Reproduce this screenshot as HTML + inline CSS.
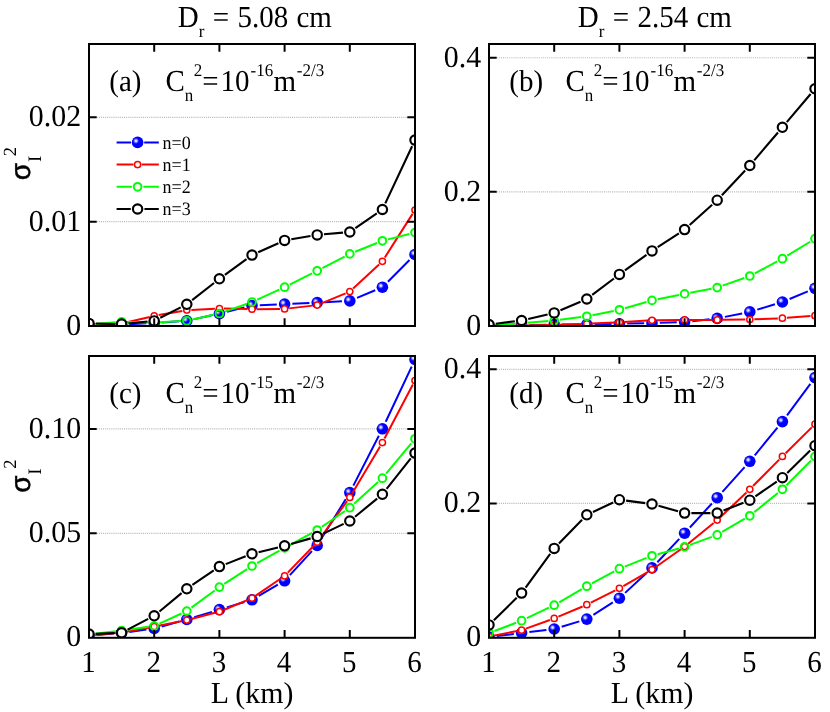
<!DOCTYPE html><html><head><meta charset="utf-8"><style>html,body{margin:0;padding:0;background:#fff}svg{display:block;will-change:transform}text{text-rendering:geometricPrecision}</style></head><body><svg width="830" height="712" viewBox="0 0 830 712">
<defs>
<radialGradient id="bg" cx="0.36" cy="0.37" r="0.28"><stop offset="0" stop-color="#fbfbff"/><stop offset="0.28" stop-color="#ccccff"/><stop offset="0.58" stop-color="#6060ff"/><stop offset="0.84" stop-color="#1616ff"/><stop offset="1" stop-color="#0000ff"/></radialGradient>
<clipPath id="cpa"><rect x="89.0" y="44.0" width="326.00" height="282.00"/></clipPath>
<clipPath id="cpb"><rect x="489.0" y="44.0" width="326.00" height="282.00"/></clipPath>
<clipPath id="cpc"><rect x="89.0" y="356.0" width="326.00" height="281.80"/></clipPath>
<clipPath id="cpd"><rect x="489.0" y="356.0" width="326.00" height="281.80"/></clipPath>
</defs>
<rect width="830" height="712" fill="#fff"/>
<line x1="96.7" y1="221.65" x2="407.3" y2="221.65" stroke="#b8b8b8" stroke-width="1.15" stroke-dasharray="1.05 1.05"/>
<line x1="96.7" y1="117.3" x2="407.3" y2="117.3" stroke="#b8b8b8" stroke-width="1.15" stroke-dasharray="1.05 1.05"/>
<g clip-path="url(#cpa)">
<path d="M96.80 324.88L113.80 324.62M129.39 324.14L146.41 323.36M161.98 322.47L179.02 321.33M194.42 319.12L211.78 315.28M226.97 311.72L244.43 307.38M259.79 305.17L276.81 304.43M292.39 303.74L309.41 302.96M324.99 302.19L342.01 301.31M356.99 297.88L375.21 290.22M387.91 281.68L409.49 260.02" stroke="#0000ff" stroke-width="2.0" fill="none"/><circle cx="89.00" cy="325.00" r="5.8" fill="url(#bg)"/><circle cx="121.60" cy="324.50" r="5.8" fill="url(#bg)"/><circle cx="154.20" cy="323.00" r="5.8" fill="url(#bg)"/><circle cx="186.80" cy="320.80" r="5.8" fill="url(#bg)"/><circle cx="219.40" cy="313.60" r="5.8" fill="url(#bg)"/><circle cx="252.00" cy="305.50" r="5.8" fill="url(#bg)"/><circle cx="284.60" cy="304.10" r="5.8" fill="url(#bg)"/><circle cx="317.20" cy="302.60" r="5.8" fill="url(#bg)"/><circle cx="349.80" cy="300.90" r="5.8" fill="url(#bg)"/><circle cx="382.40" cy="287.20" r="5.8" fill="url(#bg)"/><circle cx="415.00" cy="254.50" r="5.8" fill="url(#bg)"/>
<path d="M93.55 324.36L117.05 323.64M126.03 322.47L149.77 316.93M158.68 315.10L182.32 310.90M191.34 309.88L214.86 308.72M223.95 308.60L247.45 309.10M256.55 309.16L280.05 308.94M289.12 308.37L312.68 305.63M321.40 303.36L345.60 293.34M353.13 288.50L379.07 264.40M384.84 257.46L412.56 213.84" stroke="#ff0000" stroke-width="2.0" fill="none"/><circle cx="89.00" cy="324.50" r="3.10" fill="#fff" stroke="#ff0000" stroke-width="1.5"/><circle cx="121.60" cy="323.50" r="3.10" fill="#fff" stroke="#ff0000" stroke-width="1.5"/><circle cx="154.20" cy="315.90" r="3.10" fill="#fff" stroke="#ff0000" stroke-width="1.5"/><circle cx="186.80" cy="310.10" r="3.10" fill="#fff" stroke="#ff0000" stroke-width="1.5"/><circle cx="219.40" cy="308.50" r="3.10" fill="#fff" stroke="#ff0000" stroke-width="1.5"/><circle cx="252.00" cy="309.20" r="3.10" fill="#fff" stroke="#ff0000" stroke-width="1.5"/><circle cx="284.60" cy="308.90" r="3.10" fill="#fff" stroke="#ff0000" stroke-width="1.5"/><circle cx="317.20" cy="305.10" r="3.10" fill="#fff" stroke="#ff0000" stroke-width="1.5"/><circle cx="349.80" cy="291.60" r="3.10" fill="#fff" stroke="#ff0000" stroke-width="1.5"/><circle cx="382.40" cy="261.30" r="3.10" fill="#fff" stroke="#ff0000" stroke-width="1.5"/><circle cx="415.00" cy="210.00" r="3.10" fill="#fff" stroke="#ff0000" stroke-width="1.5"/>
<path d="M94.78 324.04L115.82 322.36M127.40 322.01L148.40 322.39M159.99 322.20L181.01 321.10M192.46 319.55L213.74 314.85M224.86 311.66L246.54 303.94M257.28 299.60L279.32 289.60M289.78 284.59L312.02 273.41M322.35 268.13L344.65 256.57M355.18 251.74L377.02 242.96M388.02 239.37L409.38 233.93" stroke="#00ff00" stroke-width="2.0" fill="none"/><circle cx="89.00" cy="324.50" r="3.85" fill="none" stroke="#00ff00" stroke-width="2.0"/><circle cx="121.60" cy="321.90" r="3.85" fill="none" stroke="#00ff00" stroke-width="2.0"/><circle cx="154.20" cy="322.50" r="3.85" fill="none" stroke="#00ff00" stroke-width="2.0"/><circle cx="186.80" cy="320.80" r="3.85" fill="none" stroke="#00ff00" stroke-width="2.0"/><circle cx="219.40" cy="313.60" r="3.85" fill="none" stroke="#00ff00" stroke-width="2.0"/><circle cx="252.00" cy="302.00" r="3.85" fill="none" stroke="#00ff00" stroke-width="2.0"/><circle cx="284.60" cy="287.20" r="3.85" fill="none" stroke="#00ff00" stroke-width="2.0"/><circle cx="317.20" cy="270.80" r="3.85" fill="none" stroke="#00ff00" stroke-width="2.0"/><circle cx="349.80" cy="253.90" r="3.85" fill="none" stroke="#00ff00" stroke-width="2.0"/><circle cx="382.40" cy="240.80" r="3.85" fill="none" stroke="#00ff00" stroke-width="2.0"/><circle cx="415.00" cy="232.50" r="3.85" fill="none" stroke="#00ff00" stroke-width="2.0"/>
<path d="M95.80 323.55L114.80 323.95M128.37 323.44L147.43 321.56M160.26 317.81L180.74 307.39M192.16 300.11L214.04 282.99M224.90 274.80L246.50 259.10M258.20 252.30L278.40 243.20M291.31 239.27L310.49 236.03M323.97 234.30L343.03 232.60M355.40 228.14L376.80 213.36M385.29 203.35L412.11 146.25" stroke="#000000" stroke-width="2.1" fill="none"/><circle cx="89.00" cy="323.40" r="4.67" fill="#fff" stroke="#000000" stroke-width="2.15"/><circle cx="121.60" cy="324.10" r="4.67" fill="#fff" stroke="#000000" stroke-width="2.15"/><circle cx="154.20" cy="320.90" r="4.67" fill="#fff" stroke="#000000" stroke-width="2.15"/><circle cx="186.80" cy="304.30" r="4.67" fill="#fff" stroke="#000000" stroke-width="2.15"/><circle cx="219.40" cy="278.80" r="4.67" fill="#fff" stroke="#000000" stroke-width="2.15"/><circle cx="252.00" cy="255.10" r="4.67" fill="#fff" stroke="#000000" stroke-width="2.15"/><circle cx="284.60" cy="240.40" r="4.67" fill="#fff" stroke="#000000" stroke-width="2.15"/><circle cx="317.20" cy="234.90" r="4.67" fill="#fff" stroke="#000000" stroke-width="2.15"/><circle cx="349.80" cy="232.00" r="4.67" fill="#fff" stroke="#000000" stroke-width="2.15"/><circle cx="382.40" cy="209.50" r="4.67" fill="#fff" stroke="#000000" stroke-width="2.15"/><circle cx="415.00" cy="140.10" r="4.67" fill="#fff" stroke="#000000" stroke-width="2.15"/>
</g>
<rect x="89.0" y="44.0" width="326.00" height="282.00" fill="none" stroke="#000" stroke-width="2"/>
<path d="M154.20 326.0v-7.7M154.20 44.0v7.7M219.40 326.0v-7.7M219.40 44.0v7.7M284.60 326.0v-7.7M284.60 44.0v7.7M349.80 326.0v-7.7M349.80 44.0v7.7M89.0 221.65h7.7M415.0 221.65h-7.7M89.0 117.3h7.7M415.0 117.3h-7.7" stroke="#000" stroke-width="2" fill="none"/>
<line x1="496.7" y1="191.85" x2="807.3" y2="191.85" stroke="#b8b8b8" stroke-width="1.15" stroke-dasharray="1.05 1.05"/>
<line x1="496.7" y1="57.7" x2="807.3" y2="57.7" stroke="#b8b8b8" stroke-width="1.15" stroke-dasharray="1.05 1.05"/>
<g clip-path="url(#cpb)">
<path d="M496.80 325.88L513.80 325.62M529.40 325.26L546.40 324.74M562.00 324.50L579.00 324.50M594.60 324.33L611.60 323.97M627.20 323.61L644.20 323.19M659.80 322.76L676.80 322.24M692.35 321.14L709.45 319.26M724.85 316.87L742.15 313.43M757.26 309.63L774.94 304.27M789.59 298.98L807.81 291.32" stroke="#0000ff" stroke-width="2.0" fill="none"/><circle cx="489.00" cy="326.00" r="5.8" fill="url(#bg)"/><circle cx="521.60" cy="325.50" r="5.8" fill="url(#bg)"/><circle cx="554.20" cy="324.50" r="5.8" fill="url(#bg)"/><circle cx="586.80" cy="324.50" r="5.8" fill="url(#bg)"/><circle cx="619.40" cy="323.80" r="5.8" fill="url(#bg)"/><circle cx="652.00" cy="323.00" r="5.8" fill="url(#bg)"/><circle cx="684.60" cy="322.00" r="5.8" fill="url(#bg)"/><circle cx="717.20" cy="318.40" r="5.8" fill="url(#bg)"/><circle cx="749.80" cy="311.90" r="5.8" fill="url(#bg)"/><circle cx="782.40" cy="302.00" r="5.8" fill="url(#bg)"/><circle cx="815.00" cy="288.30" r="5.8" fill="url(#bg)"/>
<path d="M493.55 325.76L517.05 325.54M526.15 325.43L549.65 325.07M558.75 324.83L582.25 323.97M591.35 323.59L614.85 322.51M623.94 322.02L647.46 320.58M656.55 320.24L680.05 319.96M689.15 319.90L712.65 319.90M721.75 319.84L745.25 319.56M754.35 319.32L777.85 318.38M786.94 317.85L810.46 316.05" stroke="#ff0000" stroke-width="2.0" fill="none"/><circle cx="489.00" cy="325.80" r="3.10" fill="#fff" stroke="#ff0000" stroke-width="1.5"/><circle cx="521.60" cy="325.50" r="3.10" fill="#fff" stroke="#ff0000" stroke-width="1.5"/><circle cx="554.20" cy="325.00" r="3.10" fill="#fff" stroke="#ff0000" stroke-width="1.5"/><circle cx="586.80" cy="323.80" r="3.10" fill="#fff" stroke="#ff0000" stroke-width="1.5"/><circle cx="619.40" cy="322.30" r="3.10" fill="#fff" stroke="#ff0000" stroke-width="1.5"/><circle cx="652.00" cy="320.30" r="3.10" fill="#fff" stroke="#ff0000" stroke-width="1.5"/><circle cx="684.60" cy="319.90" r="3.10" fill="#fff" stroke="#ff0000" stroke-width="1.5"/><circle cx="717.20" cy="319.90" r="3.10" fill="#fff" stroke="#ff0000" stroke-width="1.5"/><circle cx="749.80" cy="319.50" r="3.10" fill="#fff" stroke="#ff0000" stroke-width="1.5"/><circle cx="782.40" cy="318.20" r="3.10" fill="#fff" stroke="#ff0000" stroke-width="1.5"/><circle cx="815.00" cy="315.70" r="3.10" fill="#fff" stroke="#ff0000" stroke-width="1.5"/>
<path d="M494.79 325.09L515.81 323.61M527.38 322.74L548.42 321.06M559.95 319.84L581.05 317.06M592.49 315.17L613.71 310.93M624.97 308.19L646.43 302.01M657.69 299.27L678.91 295.03M690.29 292.80L711.51 288.70M722.66 285.66L744.34 277.94M754.92 273.28L777.28 261.42M787.34 255.67L810.06 241.73" stroke="#00ff00" stroke-width="2.0" fill="none"/><circle cx="489.00" cy="325.50" r="3.85" fill="none" stroke="#00ff00" stroke-width="2.0"/><circle cx="521.60" cy="323.20" r="3.85" fill="none" stroke="#00ff00" stroke-width="2.0"/><circle cx="554.20" cy="320.60" r="3.85" fill="none" stroke="#00ff00" stroke-width="2.0"/><circle cx="586.80" cy="316.30" r="3.85" fill="none" stroke="#00ff00" stroke-width="2.0"/><circle cx="619.40" cy="309.80" r="3.85" fill="none" stroke="#00ff00" stroke-width="2.0"/><circle cx="652.00" cy="300.40" r="3.85" fill="none" stroke="#00ff00" stroke-width="2.0"/><circle cx="684.60" cy="293.90" r="3.85" fill="none" stroke="#00ff00" stroke-width="2.0"/><circle cx="717.20" cy="287.60" r="3.85" fill="none" stroke="#00ff00" stroke-width="2.0"/><circle cx="749.80" cy="276.00" r="3.85" fill="none" stroke="#00ff00" stroke-width="2.0"/><circle cx="782.40" cy="258.70" r="3.85" fill="none" stroke="#00ff00" stroke-width="2.0"/><circle cx="815.00" cy="238.70" r="3.85" fill="none" stroke="#00ff00" stroke-width="2.0"/>
<path d="M495.75 323.67L514.85 321.33M528.22 318.96L547.58 314.44M560.46 310.23L580.54 301.67M592.23 294.90L613.97 278.50M624.92 270.42L646.48 254.88M657.69 247.18L678.91 233.32M689.65 225.05L712.15 204.75M721.86 195.24L745.14 170.46M754.21 160.33L777.99 132.47M786.79 122.11L810.61 93.99" stroke="#000000" stroke-width="2.1" fill="none"/><circle cx="489.00" cy="324.50" r="4.67" fill="#fff" stroke="#000000" stroke-width="2.15"/><circle cx="521.60" cy="320.50" r="4.67" fill="#fff" stroke="#000000" stroke-width="2.15"/><circle cx="554.20" cy="312.90" r="4.67" fill="#fff" stroke="#000000" stroke-width="2.15"/><circle cx="586.80" cy="299.00" r="4.67" fill="#fff" stroke="#000000" stroke-width="2.15"/><circle cx="619.40" cy="274.40" r="4.67" fill="#fff" stroke="#000000" stroke-width="2.15"/><circle cx="652.00" cy="250.90" r="4.67" fill="#fff" stroke="#000000" stroke-width="2.15"/><circle cx="684.60" cy="229.60" r="4.67" fill="#fff" stroke="#000000" stroke-width="2.15"/><circle cx="717.20" cy="200.20" r="4.67" fill="#fff" stroke="#000000" stroke-width="2.15"/><circle cx="749.80" cy="165.50" r="4.67" fill="#fff" stroke="#000000" stroke-width="2.15"/><circle cx="782.40" cy="127.30" r="4.67" fill="#fff" stroke="#000000" stroke-width="2.15"/><circle cx="815.00" cy="88.80" r="4.67" fill="#fff" stroke="#000000" stroke-width="2.15"/>
</g>
<rect x="489.0" y="44.0" width="326.00" height="282.00" fill="none" stroke="#000" stroke-width="2"/>
<path d="M554.20 326.0v-7.7M554.20 44.0v7.7M619.40 326.0v-7.7M619.40 44.0v7.7M684.60 326.0v-7.7M684.60 44.0v7.7M749.80 326.0v-7.7M749.80 44.0v7.7M489.0 191.85h7.7M815.0 191.85h-7.7M489.0 57.7h7.7M815.0 57.7h-7.7" stroke="#000" stroke-width="2" fill="none"/>
<line x1="96.7" y1="533.35" x2="407.3" y2="533.35" stroke="#b8b8b8" stroke-width="1.15" stroke-dasharray="1.05 1.05"/>
<line x1="96.7" y1="428.9" x2="407.3" y2="428.9" stroke="#b8b8b8" stroke-width="1.15" stroke-dasharray="1.05 1.05"/>
<g clip-path="url(#cpc)">
<path d="M96.78 634.90L113.82 633.60M129.33 631.93L146.47 629.57M161.72 626.42L179.28 621.58M194.26 617.23L211.94 611.87M226.87 607.35L244.53 602.05M258.74 595.87L277.86 584.73M289.88 575.06L311.92 551.14M321.30 538.76L345.70 499.24M353.35 485.65L378.85 435.75M385.72 421.74L411.68 366.56" stroke="#0000ff" stroke-width="2.0" fill="none"/><circle cx="89.00" cy="635.50" r="5.8" fill="url(#bg)"/><circle cx="121.60" cy="633.00" r="5.8" fill="url(#bg)"/><circle cx="154.20" cy="628.50" r="5.8" fill="url(#bg)"/><circle cx="186.80" cy="619.50" r="5.8" fill="url(#bg)"/><circle cx="219.40" cy="609.60" r="5.8" fill="url(#bg)"/><circle cx="252.00" cy="599.80" r="5.8" fill="url(#bg)"/><circle cx="284.60" cy="580.80" r="5.8" fill="url(#bg)"/><circle cx="317.20" cy="545.40" r="5.8" fill="url(#bg)"/><circle cx="349.80" cy="492.60" r="5.8" fill="url(#bg)"/><circle cx="382.40" cy="428.80" r="5.8" fill="url(#bg)"/><circle cx="415.00" cy="359.50" r="5.8" fill="url(#bg)"/>
<path d="M93.53 635.08L117.07 632.92M126.08 631.70L149.72 627.50M158.66 625.80L182.34 621.00M191.21 618.96L214.99 612.84M223.60 609.96L247.80 599.94M255.76 595.63L280.84 578.47M287.76 572.63L314.04 545.47M319.88 538.52L347.12 501.08M352.13 493.49L380.07 446.51M384.51 438.57L412.89 384.53" stroke="#ff0000" stroke-width="2.0" fill="none"/><circle cx="89.00" cy="635.50" r="3.10" fill="#fff" stroke="#ff0000" stroke-width="1.5"/><circle cx="121.60" cy="632.50" r="3.10" fill="#fff" stroke="#ff0000" stroke-width="1.5"/><circle cx="154.20" cy="626.70" r="3.10" fill="#fff" stroke="#ff0000" stroke-width="1.5"/><circle cx="186.80" cy="620.10" r="3.10" fill="#fff" stroke="#ff0000" stroke-width="1.5"/><circle cx="219.40" cy="611.70" r="3.10" fill="#fff" stroke="#ff0000" stroke-width="1.5"/><circle cx="252.00" cy="598.20" r="3.10" fill="#fff" stroke="#ff0000" stroke-width="1.5"/><circle cx="284.60" cy="575.90" r="3.10" fill="#fff" stroke="#ff0000" stroke-width="1.5"/><circle cx="317.20" cy="542.20" r="3.10" fill="#fff" stroke="#ff0000" stroke-width="1.5"/><circle cx="349.80" cy="497.40" r="3.10" fill="#fff" stroke="#ff0000" stroke-width="1.5"/><circle cx="382.40" cy="442.60" r="3.10" fill="#fff" stroke="#ff0000" stroke-width="1.5"/><circle cx="415.00" cy="380.50" r="3.10" fill="#fff" stroke="#ff0000" stroke-width="1.5"/>
<path d="M94.76 633.79L115.84 631.21M127.35 629.71L148.45 626.79M159.48 623.59L181.52 613.51M191.47 607.66L214.73 590.54M224.27 583.95L247.13 569.15M257.07 563.18L279.53 550.72M289.68 545.11L312.12 532.79M321.99 526.73L345.01 510.97M354.10 503.81L378.10 482.09M386.10 473.73L411.30 443.27" stroke="#00ff00" stroke-width="2.0" fill="none"/><circle cx="89.00" cy="634.50" r="3.85" fill="none" stroke="#00ff00" stroke-width="2.0"/><circle cx="121.60" cy="630.50" r="3.85" fill="none" stroke="#00ff00" stroke-width="2.0"/><circle cx="154.20" cy="626.00" r="3.85" fill="none" stroke="#00ff00" stroke-width="2.0"/><circle cx="186.80" cy="611.10" r="3.85" fill="none" stroke="#00ff00" stroke-width="2.0"/><circle cx="219.40" cy="587.10" r="3.85" fill="none" stroke="#00ff00" stroke-width="2.0"/><circle cx="252.00" cy="566.00" r="3.85" fill="none" stroke="#00ff00" stroke-width="2.0"/><circle cx="284.60" cy="547.90" r="3.85" fill="none" stroke="#00ff00" stroke-width="2.0"/><circle cx="317.20" cy="530.00" r="3.85" fill="none" stroke="#00ff00" stroke-width="2.0"/><circle cx="349.80" cy="507.70" r="3.85" fill="none" stroke="#00ff00" stroke-width="2.0"/><circle cx="382.40" cy="478.20" r="3.85" fill="none" stroke="#00ff00" stroke-width="2.0"/><circle cx="415.00" cy="438.80" r="3.85" fill="none" stroke="#00ff00" stroke-width="2.0"/>
<path d="M95.79 633.83L114.81 633.07M127.63 629.66L148.17 618.94M159.44 611.46L181.56 593.14M192.42 584.97L213.78 570.43M225.73 564.11L245.67 556.29M258.60 552.18L278.00 547.42M291.14 543.93L310.66 538.37M323.34 533.58L343.66 523.92M355.06 516.69L377.14 498.61M386.62 488.97L410.78 458.43" stroke="#000000" stroke-width="2.1" fill="none"/><circle cx="89.00" cy="634.10" r="4.67" fill="#fff" stroke="#000000" stroke-width="2.15"/><circle cx="121.60" cy="632.80" r="4.67" fill="#fff" stroke="#000000" stroke-width="2.15"/><circle cx="154.20" cy="615.80" r="4.67" fill="#fff" stroke="#000000" stroke-width="2.15"/><circle cx="186.80" cy="588.80" r="4.67" fill="#fff" stroke="#000000" stroke-width="2.15"/><circle cx="219.40" cy="566.60" r="4.67" fill="#fff" stroke="#000000" stroke-width="2.15"/><circle cx="252.00" cy="553.80" r="4.67" fill="#fff" stroke="#000000" stroke-width="2.15"/><circle cx="284.60" cy="545.80" r="4.67" fill="#fff" stroke="#000000" stroke-width="2.15"/><circle cx="317.20" cy="536.50" r="4.67" fill="#fff" stroke="#000000" stroke-width="2.15"/><circle cx="349.80" cy="521.00" r="4.67" fill="#fff" stroke="#000000" stroke-width="2.15"/><circle cx="382.40" cy="494.30" r="4.67" fill="#fff" stroke="#000000" stroke-width="2.15"/><circle cx="415.00" cy="453.10" r="4.67" fill="#fff" stroke="#000000" stroke-width="2.15"/>
</g>
<rect x="89.0" y="356.0" width="326.00" height="281.80" fill="none" stroke="#000" stroke-width="2"/>
<path d="M154.20 637.8v-7.7M154.20 356.0v7.7M219.40 637.8v-7.7M219.40 356.0v7.7M284.60 637.8v-7.7M284.60 356.0v7.7M349.80 637.8v-7.7M349.80 356.0v7.7M89.0 533.35h7.7M415.0 533.35h-7.7M89.0 428.9h7.7M415.0 428.9h-7.7" stroke="#000" stroke-width="2" fill="none"/>
<line x1="496.7" y1="503.4" x2="807.3" y2="503.4" stroke="#b8b8b8" stroke-width="1.15" stroke-dasharray="1.05 1.05"/>
<line x1="496.7" y1="369.3" x2="807.3" y2="369.3" stroke="#b8b8b8" stroke-width="1.15" stroke-dasharray="1.05 1.05"/>
<g clip-path="url(#cpd)">
<path d="M496.74 636.05L513.86 633.95M529.34 632.05L546.46 629.95M561.66 626.73L579.34 621.37M593.37 614.89L612.83 602.41M625.11 592.89L646.29 573.21M657.34 562.22L679.26 538.88M689.88 527.45L711.92 503.45M722.40 491.89L744.60 467.11M754.75 455.27L777.45 427.63M787.04 415.33L810.36 383.87" stroke="#0000ff" stroke-width="2.0" fill="none"/><circle cx="489.00" cy="637.00" r="5.8" fill="url(#bg)"/><circle cx="521.60" cy="633.00" r="5.8" fill="url(#bg)"/><circle cx="554.20" cy="629.00" r="5.8" fill="url(#bg)"/><circle cx="586.80" cy="619.10" r="5.8" fill="url(#bg)"/><circle cx="619.40" cy="598.20" r="5.8" fill="url(#bg)"/><circle cx="652.00" cy="567.90" r="5.8" fill="url(#bg)"/><circle cx="684.60" cy="533.20" r="5.8" fill="url(#bg)"/><circle cx="717.20" cy="497.70" r="5.8" fill="url(#bg)"/><circle cx="749.80" cy="461.30" r="5.8" fill="url(#bg)"/><circle cx="782.40" cy="421.60" r="5.8" fill="url(#bg)"/><circle cx="815.00" cy="377.60" r="5.8" fill="url(#bg)"/>
<path d="M493.47 635.64L517.13 631.06M525.88 628.65L549.92 619.95M558.39 616.64L582.61 606.46M590.86 602.66L615.34 590.34M623.35 586.04L648.05 571.86M655.72 566.98L680.88 549.22M688.13 543.73L713.67 522.97M720.51 516.98L746.49 492.42M753.00 486.07L779.20 459.63M785.64 453.20L811.76 427.40" stroke="#ff0000" stroke-width="2.0" fill="none"/><circle cx="489.00" cy="636.50" r="3.10" fill="#fff" stroke="#ff0000" stroke-width="1.5"/><circle cx="521.60" cy="630.20" r="3.10" fill="#fff" stroke="#ff0000" stroke-width="1.5"/><circle cx="554.20" cy="618.40" r="3.10" fill="#fff" stroke="#ff0000" stroke-width="1.5"/><circle cx="586.80" cy="604.70" r="3.10" fill="#fff" stroke="#ff0000" stroke-width="1.5"/><circle cx="619.40" cy="588.30" r="3.10" fill="#fff" stroke="#ff0000" stroke-width="1.5"/><circle cx="652.00" cy="569.60" r="3.10" fill="#fff" stroke="#ff0000" stroke-width="1.5"/><circle cx="684.60" cy="546.60" r="3.10" fill="#fff" stroke="#ff0000" stroke-width="1.5"/><circle cx="717.20" cy="520.10" r="3.10" fill="#fff" stroke="#ff0000" stroke-width="1.5"/><circle cx="749.80" cy="489.30" r="3.10" fill="#fff" stroke="#ff0000" stroke-width="1.5"/><circle cx="782.40" cy="456.40" r="3.10" fill="#fff" stroke="#ff0000" stroke-width="1.5"/><circle cx="815.00" cy="424.20" r="3.10" fill="#fff" stroke="#ff0000" stroke-width="1.5"/>
<path d="M494.43 630.95L516.17 622.75M526.84 618.21L548.96 607.69M559.21 602.28L581.79 589.12M591.91 583.46L614.29 571.44M624.79 566.57L646.61 557.93M657.60 554.27L679.00 548.43M690.04 544.90L711.76 536.90M722.20 531.97L744.80 518.73M754.30 512.14L777.90 492.96M786.49 485.19L810.91 460.71" stroke="#00ff00" stroke-width="2.0" fill="none"/><circle cx="489.00" cy="633.00" r="3.85" fill="none" stroke="#00ff00" stroke-width="2.0"/><circle cx="521.60" cy="620.70" r="3.85" fill="none" stroke="#00ff00" stroke-width="2.0"/><circle cx="554.20" cy="605.20" r="3.85" fill="none" stroke="#00ff00" stroke-width="2.0"/><circle cx="586.80" cy="586.20" r="3.85" fill="none" stroke="#00ff00" stroke-width="2.0"/><circle cx="619.40" cy="568.70" r="3.85" fill="none" stroke="#00ff00" stroke-width="2.0"/><circle cx="652.00" cy="555.80" r="3.85" fill="none" stroke="#00ff00" stroke-width="2.0"/><circle cx="684.60" cy="546.90" r="3.85" fill="none" stroke="#00ff00" stroke-width="2.0"/><circle cx="717.20" cy="534.90" r="3.85" fill="none" stroke="#00ff00" stroke-width="2.0"/><circle cx="749.80" cy="515.80" r="3.85" fill="none" stroke="#00ff00" stroke-width="2.0"/><circle cx="782.40" cy="489.30" r="3.85" fill="none" stroke="#00ff00" stroke-width="2.0"/><circle cx="815.00" cy="456.60" r="3.85" fill="none" stroke="#00ff00" stroke-width="2.0"/>
<path d="M493.87 620.15L516.73 597.85M525.61 587.61L550.19 553.89M558.94 543.52L582.06 519.68M592.97 511.94L613.23 502.56M626.14 500.59L645.26 503.11M658.55 505.83L678.05 511.27M691.40 513.10L710.40 513.10M723.52 510.60L743.48 502.70M755.40 496.34L776.80 481.56M787.25 472.94L810.15 450.46" stroke="#000000" stroke-width="2.1" fill="none"/><circle cx="489.00" cy="624.90" r="4.67" fill="#fff" stroke="#000000" stroke-width="2.15"/><circle cx="521.60" cy="593.10" r="4.67" fill="#fff" stroke="#000000" stroke-width="2.15"/><circle cx="554.20" cy="548.40" r="4.67" fill="#fff" stroke="#000000" stroke-width="2.15"/><circle cx="586.80" cy="514.80" r="4.67" fill="#fff" stroke="#000000" stroke-width="2.15"/><circle cx="619.40" cy="499.70" r="4.67" fill="#fff" stroke="#000000" stroke-width="2.15"/><circle cx="652.00" cy="504.00" r="4.67" fill="#fff" stroke="#000000" stroke-width="2.15"/><circle cx="684.60" cy="513.10" r="4.67" fill="#fff" stroke="#000000" stroke-width="2.15"/><circle cx="717.20" cy="513.10" r="4.67" fill="#fff" stroke="#000000" stroke-width="2.15"/><circle cx="749.80" cy="500.20" r="4.67" fill="#fff" stroke="#000000" stroke-width="2.15"/><circle cx="782.40" cy="477.70" r="4.67" fill="#fff" stroke="#000000" stroke-width="2.15"/><circle cx="815.00" cy="445.70" r="4.67" fill="#fff" stroke="#000000" stroke-width="2.15"/>
</g>
<rect x="489.0" y="356.0" width="326.00" height="281.80" fill="none" stroke="#000" stroke-width="2"/>
<path d="M554.20 637.8v-7.7M554.20 356.0v7.7M619.40 637.8v-7.7M619.40 356.0v7.7M684.60 637.8v-7.7M684.60 356.0v7.7M749.80 637.8v-7.7M749.80 356.0v7.7M489.0 503.4h7.7M815.0 503.4h-7.7M489.0 369.3h7.7M815.0 369.3h-7.7" stroke="#000" stroke-width="2" fill="none"/>
<g font-family="'Liberation Serif', serif" font-size="29px" fill="#000">
<text transform="translate(81.10 335.00) scale(1.03 1.05)" text-anchor="end">0</text>
<text transform="translate(81.10 230.65) scale(1.03 1.05)" text-anchor="end">0.01</text>
<text transform="translate(81.10 126.30) scale(1.03 1.05)" text-anchor="end">0.02</text>
<text transform="translate(481.10 335.00) scale(1.03 1.05)" text-anchor="end">0</text>
<text transform="translate(481.10 200.85) scale(1.03 1.05)" text-anchor="end">0.2</text>
<text transform="translate(481.10 66.70) scale(1.03 1.05)" text-anchor="end">0.4</text>
<text transform="translate(81.10 646.40) scale(1.03 1.05)" text-anchor="end">0</text>
<text transform="translate(81.10 542.35) scale(1.03 1.05)" text-anchor="end">0.05</text>
<text transform="translate(81.10 437.90) scale(1.03 1.05)" text-anchor="end">0.10</text>
<text transform="translate(481.10 646.40) scale(1.03 1.05)" text-anchor="end">0</text>
<text transform="translate(481.10 512.40) scale(1.03 1.05)" text-anchor="end">0.2</text>
<text transform="translate(481.10 378.30) scale(1.03 1.05)" text-anchor="end">0.4</text>
<text transform="translate(88.50 671.6) scale(1 1.05)" text-anchor="middle">1</text>
<text transform="translate(153.70 671.6) scale(1 1.05)" text-anchor="middle">2</text>
<text transform="translate(218.90 671.6) scale(1 1.05)" text-anchor="middle">3</text>
<text transform="translate(284.10 671.6) scale(1 1.05)" text-anchor="middle">4</text>
<text transform="translate(349.30 671.6) scale(1 1.05)" text-anchor="middle">5</text>
<text transform="translate(414.50 671.6) scale(1 1.05)" text-anchor="middle">6</text>
<text transform="translate(252.00 703.1) scale(1.03 1.05)" text-anchor="middle">L (km)</text>
<text transform="translate(488.50 671.6) scale(1 1.05)" text-anchor="middle">1</text>
<text transform="translate(553.70 671.6) scale(1 1.05)" text-anchor="middle">2</text>
<text transform="translate(618.90 671.6) scale(1 1.05)" text-anchor="middle">3</text>
<text transform="translate(684.10 671.6) scale(1 1.05)" text-anchor="middle">4</text>
<text transform="translate(749.30 671.6) scale(1 1.05)" text-anchor="middle">5</text>
<text transform="translate(814.50 671.6) scale(1 1.05)" text-anchor="middle">6</text>
<text transform="translate(652.00 703.1) scale(1.03 1.05)" text-anchor="middle">L (km)</text>
<text transform="translate(177.7 26.6) scale(1 1.05)" word-spacing="1.1">D<tspan font-size="17px" dy="9.6">r</tspan><tspan dy="-9.6"> = 5.08 cm</tspan></text>
<text transform="translate(577.7 26.6) scale(1 1.05)" word-spacing="1.1">D<tspan font-size="17px" dy="9.6">r</tspan><tspan dy="-9.6"> = 2.54 cm</tspan></text>
<text transform="translate(109.3 90.9) scale(1 1.05)">(a)</text>
<text transform="translate(165.4 90.9) scale(1 1.05)">C<tspan font-size="17px" dy="9.6">n</tspan><tspan font-size="17px" dy="-24.1" dx="0.6">2</tspan><tspan dy="14.5">=</tspan><tspan dx="1.9">10</tspan><tspan font-size="17px" dy="-14.5" dx="0.9">-16</tspan><tspan dy="14.5" dx="0.4">m</tspan><tspan font-size="17px" dy="-14.5" dx="0.7">-2/3</tspan></text>
<text transform="translate(509.3 90.9) scale(1 1.05)">(b)</text>
<text transform="translate(565.4 90.9) scale(1 1.05)">C<tspan font-size="17px" dy="9.6">n</tspan><tspan font-size="17px" dy="-24.1" dx="0.6">2</tspan><tspan dy="14.5">=</tspan><tspan dx="1.9">10</tspan><tspan font-size="17px" dy="-14.5" dx="0.9">-16</tspan><tspan dy="14.5" dx="0.4">m</tspan><tspan font-size="17px" dy="-14.5" dx="0.7">-2/3</tspan></text>
<text transform="translate(109.3 402.9) scale(1 1.05)">(c)</text>
<text transform="translate(165.4 402.9) scale(1 1.05)">C<tspan font-size="17px" dy="9.6">n</tspan><tspan font-size="17px" dy="-24.1" dx="0.6">2</tspan><tspan dy="14.5">=</tspan><tspan dx="1.9">10</tspan><tspan font-size="17px" dy="-14.5" dx="0.9">-15</tspan><tspan dy="14.5" dx="0.4">m</tspan><tspan font-size="17px" dy="-14.5" dx="0.7">-2/3</tspan></text>
<text transform="translate(509.3 402.9) scale(1 1.05)">(d)</text>
<text transform="translate(565.4 402.9) scale(1 1.05)">C<tspan font-size="17px" dy="9.6">n</tspan><tspan font-size="17px" dy="-24.1" dx="0.6">2</tspan><tspan dy="14.5">=</tspan><tspan dx="1.9">10</tspan><tspan font-size="17px" dy="-14.5" dx="0.9">-15</tspan><tspan dy="14.5" dx="0.4">m</tspan><tspan font-size="17px" dy="-14.5" dx="0.7">-2/3</tspan></text>
<g transform="translate(31.3 179.0) rotate(-90)"><text x="-1.2" y="-0.9" font-family="'Liberation Sans', sans-serif" font-size="28px" stroke="#000" stroke-width="0.5">σ</text><text x="16.9" y="10" font-size="19px">I</text><text x="22.8" y="-15.6" font-size="18.5px">2</text></g>
<g transform="translate(31.3 491.6) rotate(-90)"><text x="-1.2" y="-0.9" font-family="'Liberation Sans', sans-serif" font-size="28px" stroke="#000" stroke-width="0.5">σ</text><text x="16.9" y="10" font-size="19px">I</text><text x="22.8" y="-15.6" font-size="18.5px">2</text></g>
</g>
<path d="M116.6 142.40H131.00M144.20 142.40H158.8" stroke="#0000ff" stroke-width="2.0"/>
<circle cx="137.60" cy="142.40" r="5.8" fill="url(#bg)"/>
<text transform="translate(162.6 148.70) scale(1 1.05)" font-family="'Liberation Serif', serif" font-size="18px">n=0</text>
<path d="M116.6 164.60H133.50M141.70 164.60H158.8" stroke="#ff0000" stroke-width="2.0"/>
<circle cx="137.60" cy="164.60" r="3.10" fill="#fff" stroke="#ff0000" stroke-width="1.5"/>
<text transform="translate(162.6 170.90) scale(1 1.05)" font-family="'Liberation Serif', serif" font-size="18px">n=1</text>
<path d="M116.6 186.80H131.85M143.35 186.80H158.8" stroke="#00ff00" stroke-width="2.0"/>
<circle cx="137.60" cy="186.80" r="3.85" fill="none" stroke="#00ff00" stroke-width="2.0"/>
<text transform="translate(162.6 193.10) scale(1 1.05)" font-family="'Liberation Serif', serif" font-size="18px">n=2</text>
<path d="M116.6 209.00H130.75M144.45 209.00H158.8" stroke="#000000" stroke-width="2.1"/>
<circle cx="137.60" cy="209.00" r="4.67" fill="#fff" stroke="#000000" stroke-width="2.15"/>
<text transform="translate(162.6 215.30) scale(1 1.05)" font-family="'Liberation Serif', serif" font-size="18px">n=3</text>
</svg></body></html>
